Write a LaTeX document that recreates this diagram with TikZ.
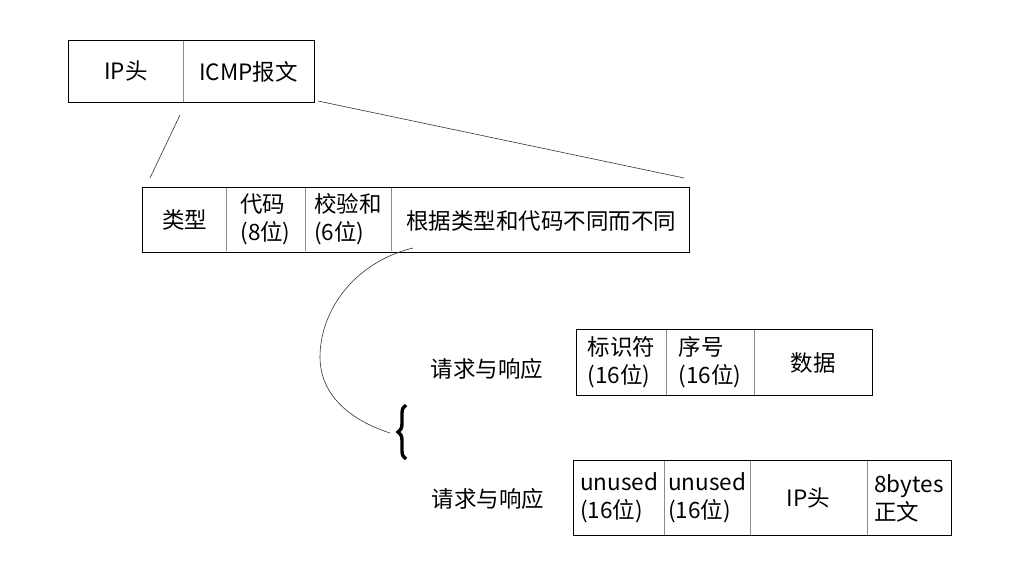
\documentclass[tikz,border=0pt]{standalone}
\usepackage{fontspec}
\setmainfont{Noto Sans CJK SC}
\usetikzlibrary{decorations.pathreplacing}

\tikzset{
  cell/.style={inner sep=0pt, align=left, font=\fontsize{22.5}{28}\selectfont},
  frame/.style={draw=black, line width=0.9pt},
  divider/.style={draw=black!45, line width=1.4pt},
  link/.style={draw=black!80, line width=0.6pt}
}

\begin{document}
\begin{tikzpicture}[x=1pt,y=-1pt]
  \useasboundingbox (0,0) rectangle (1024,584);
  % ICMP in IP
  \node[cell, minimum width=114, minimum height=61] (ip) at (126,71.5) {IP头};
  \node[cell, minimum width=131, minimum height=61] (icmp) at (248.5,71.5) {ICMP报文};
  \draw[frame] (ip.north west) rectangle (icmp.south east);
  \draw[divider] (ip.north east) -- (ip.south east);
  % header fields
  \node[cell, minimum width=83, minimum height=63] (type) at (184.5,219.5) {类型};
  \node[cell, minimum width=79, minimum height=63] (code) at (265.5,219.5) {代码\\(8位)};
  \node[cell, minimum width=86, minimum height=63] (chk) at (348,219.5) {校验和\\(6位)};
  \node[cell, minimum width=296, minimum height=63] (rest) at (541,221) {根据类型和代码不同而不同};
  \draw[frame] (type.north west) rectangle (rest.south east);
  \foreach \c in {type,code,chk}
    \draw[divider] (\c.north east) -- (\c.south east);
  % zoom lines
  \coordinate (z1a) at (180,115);
  \coordinate (z1b) at (150,178);
  \coordinate (z2a) at (318,101);
  \coordinate (z2b) at (684,178);
  \draw[link] (z1a) -- (z1b);
  \draw[link] (z2a) -- (z2b);
  % request / reply
  \node[cell] (req1) at (487,369) {请求与响应};
  \node[cell, minimum width=89, minimum height=65] (ident) at (621.5,362.5) {标识符\\(16位)};
  \node[cell, minimum width=88, minimum height=65] (seq) at (710,362.5) {序号\\(16位)};
  \node[cell, minimum width=118, minimum height=65] (data) at (813,362.5) {数据};
  \draw[frame] (ident.north west) rectangle (data.south east);
  \foreach \c in {ident,seq}
    \draw[divider] (\c.north east) -- (\c.south east);
  % second kind
  \node[cell] (req2) at (488,499) {请求与响应};
  \node[cell, minimum width=90, minimum height=74] (un1) at (619,498) {unused\\(16位)};
  \node[cell, minimum width=86, minimum height=74] (un2) at (707,498) {unused\\(16位)};
  \node[cell, minimum width=117, minimum height=74] (iph) at (808.5,498) {IP头};
  \node[cell, minimum width=84, minimum height=74] (body) at (909,498) {8bytes\\正文};
  \draw[frame] (un1.north west) rectangle (body.south east);
  \foreach \c in {un1,un2,iph}
    \draw[divider] (\c.north east) -- (\c.south east);
  % brace and curve
  \coordinate (bt) at (406,405);
  \coordinate (bb) at (406,459);
  \draw[decorate, decoration={brace, amplitude=8pt}, line width=3.4pt] (bb) -- (bt);
  \coordinate (cs) at (413,248);
  \coordinate (ce) at (390,433);
  \draw[link] (cs) .. controls (355,262) and (320,310) .. (320,357)
              .. controls (320,395) and (350,420) .. (ce);
\end{tikzpicture}
\end{document}
